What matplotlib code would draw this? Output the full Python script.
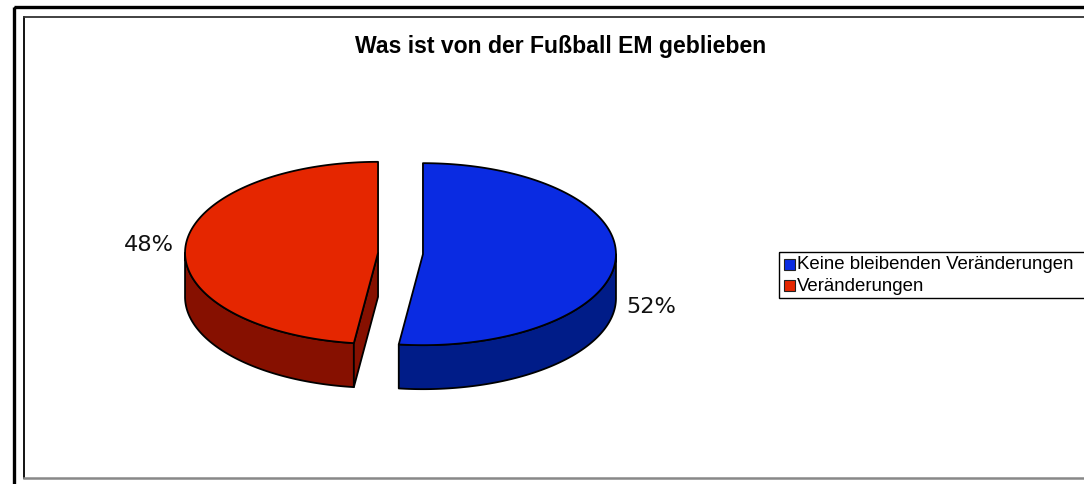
import numpy as np
import matplotlib
matplotlib.use("Agg")
import matplotlib.pyplot as plt
from matplotlib.patches import Polygon, Rectangle

# ---- data ----
categories = ["Keine bleibenden Veränderungen", "Veränderungen"]
values = [52, 48]
labels = ["52%", "48%"]
title = "Was ist von der Fußball EM geblieben"

top_colors = ["#0A2BE2", "#E52600"]
side_colors = ["#001C88", "#861000"]

W, H = 1084, 485
fig = plt.figure(figsize=(W / 100, H / 100), dpi=100)
ax = fig.add_axes([0, 0, 1, 1])
ax.set_xlim(0, W)
ax.set_ylim(H, 0)
ax.axis("off")

# frames
ax.add_patch(Rectangle((14, 7.5), W + 20, H + 20, fill=False, ec="black", lw=2.4, zorder=1))
ax.plot([24, 24], [17.5, 479], color="black", lw=1.3, zorder=1)
ax.plot([24, W + 5], [17.5, 17.5], color="#333333", lw=1.3, zorder=1)
ax.plot([24, W + 5], [479, 479], color="#888888", lw=1.8, zorder=1)

ax.text(561, 46, title, ha="center", va="center", fontsize=16.6,
        fontweight="bold", family="Liberation Sans", zorder=5)

# ---- 3D exploded pie geometry ----
cx, cy = 400.5, 254.5
a, b = 193.0, 91.0
depth = 44.0
explode = 22.5

total = float(sum(values))
fracs = [v / total for v in values]
starts = np.concatenate([[0.0], np.cumsum(fracs)[:-1]]) * 360.0
ends = np.cumsum(fracs) * 360.0


def pt(ox, oy, th):
    r = np.radians(th)
    return ox + a * np.sin(r), oy - b * np.cos(r)


sides = []
tops = []
for i, (s, e) in enumerate(zip(starts, ends)):
    mid = np.radians((s + e) / 2)
    ox = cx + explode * np.sin(mid)
    oy = cy - explode * np.cos(mid) * (b / a)
    # top face
    th = np.linspace(s, e, 200)
    xs, ys = pt(ox, oy, th)
    tops.append((np.column_stack([np.r_[ox, xs], np.r_[oy, ys]]), i))
    # curved front side
    lo, hi = max(s, 90.0), min(e, 270.0)
    if hi > lo:
        th2 = np.linspace(lo, hi, 200)
        x2, y2 = pt(ox, oy, th2)
        poly = np.column_stack([np.r_[x2, x2[::-1]], np.r_[y2, (y2 + depth)[::-1]]])
        sides.append((poly, i))
    # cut faces
    for ang, nrm in ((s, s - 90.0), (e, e + 90.0)):
        if np.cos(np.radians(nrm)) < -1e-6:
            px, py = pt(ox, oy, ang)
            poly = np.array([[ox, oy], [px, py], [px, py + depth], [ox, oy + depth]])
            sides.append((poly, i))

for poly, i in sides:
    ax.add_patch(Polygon(poly, closed=True, fc=side_colors[i], ec="black", lw=1.3,
                         joinstyle="round", zorder=2))
for poly, i in tops:
    ax.add_patch(Polygon(poly, closed=True, fc=top_colors[i], ec="black", lw=1.3,
                         joinstyle="round", zorder=3))

# percent labels
lab_pos = [(626, 307, "left"), (174, 245, "right")]
for i, (lx, ly, ha) in enumerate(lab_pos):
    ax.text(lx, ly, labels[i], ha=ha, va="center", fontsize=16.2,
            family="DejaVu Sans", color="#111111", zorder=5)

# legend
lx0, ly0, lw_, lh_ = 778.5, 252.5, 310, 46.5
ax.add_patch(Rectangle((lx0, ly0), lw_, lh_, fill=False, ec="black", lw=1.0, zorder=4))
for i, cat in enumerate(categories):
    yy = 265 + i * 21.5
    ax.add_patch(Rectangle((784, yy - 5.5), 11, 11, fc=top_colors[i], ec="#222222",
                           lw=0.8, zorder=5))
    ax.text(797, yy, cat, ha="left", va="center", fontsize=13.4,
            family="Liberation Sans", zorder=5)

fig.savefig("out.png", dpi=100)
